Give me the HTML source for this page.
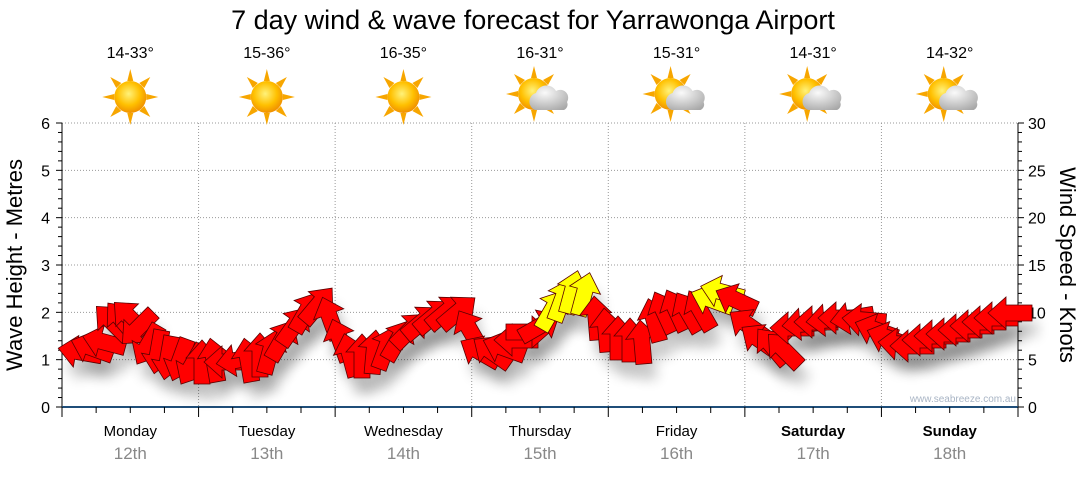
<!DOCTYPE html>
<html><head><meta charset="utf-8">
<style>
body{margin:0;background:#fff;width:1080px;height:475px;overflow:hidden;font-family:"Liberation Sans","DejaVu Sans",sans-serif}
</style></head><body>
<svg id="s" width="1080" height="475" xmlns="http://www.w3.org/2000/svg" font-family="Liberation Sans, DejaVu Sans, sans-serif">
<defs>
<radialGradient id="sun" cx="0.45" cy="0.4" r="0.6"><stop offset="0" stop-color="#fff27a"/><stop offset="0.6" stop-color="#ffc000"/><stop offset="1" stop-color="#f09000"/></radialGradient>
<radialGradient id="cl" cx="0.4" cy="0.3" r="0.8"><stop offset="0" stop-color="#fafafa"/><stop offset="1" stop-color="#a8a8a8"/></radialGradient>
<filter id="sh" x="-50%" y="-50%" width="200%" height="200%"><feGaussianBlur stdDeviation="6"/></filter>
<g id="sunI"><g fill="#f7a600">
<polygon points="0,-28 3,-16 -3,-16"/><polygon points="0,28 3,16 -3,16"/><polygon points="-28,0 -16,3 -16,-3"/><polygon points="28,0 16,3 16,-3"/>
<polygon points="-20,-20 -9,-14 -14,-9"/><polygon points="20,20 9,14 14,9"/><polygon points="20,-20 9,-14 14,-9"/><polygon points="-20,20 -9,14 -14,9"/></g>
<circle r="16" fill="url(#sun)"/></g>
<g id="cloud"><path d="M-9,11 a9,9 0 0 1 1,-17 a11,11 0 0 1 20,-2 a8,8 0 0 1 11,11 a6,6 0 0 1 -3,8 z" fill="url(#cl)"/></g>
</defs>
<text x="533" y="29" font-size="27" text-anchor="middle" fill="#000">7 day wind &amp; wave forecast for Yarrawonga Airport</text>
<g id="grid" stroke="#999" stroke-dasharray="1,2" stroke-width="1"></g>
<g id="axes"></g>
<g id="wx"></g>
<g id="arr"></g>
<text x="1016" y="402" font-size="10" fill="#a9b5c5" text-anchor="end">www.seabreeze.com.au</text>
<text transform="translate(22,265) rotate(-90)" font-size="22" text-anchor="middle">Wave Height - Metres</text>
<text transform="translate(1060,265) rotate(90)" font-size="22" text-anchor="middle">Wind Speed - Knots</text>
</svg>
<script>
const NS="http://www.w3.org/2000/svg",S=document.getElementById('s');
function el(p,t,a,txt){const e=document.createElementNS(NS,t);for(const k in a)e.setAttribute(k,a[k]);if(txt!=null)e.textContent=txt;document.getElementById(p).appendChild(e);return e;}
const X0=62,X1=1018,Y0=407,Y6=123,dw=(X1-X0)/7;
for(let i=1;i<=6;i++){const y=Y0-i*(Y0-Y6)/6;el('grid','line',{x1:X0,x2:X1,y1:y,y2:y});}
for(let i=1;i<7;i++){const x=X0+i*dw;el('grid','line',{x1:x,x2:x,y1:Y6,y2:Y0});}
el('axes','line',{x1:X0,x2:X0,y1:Y6,y2:Y0,stroke:'#000'});
el('axes','line',{x1:X1,x2:X1,y1:Y6,y2:Y0,stroke:'#000'});
el('axes','line',{x1:X0,x2:X1,y1:Y0,y2:Y0,stroke:'#1f4e79','stroke-width':2});
for(let i=0;i<=30;i++){const y=Y0-i*(Y0-Y6)/30;const L=i%5==0?6:4;
 el('axes','line',{x1:X0-L,x2:X0,y1:y,y2:y,stroke:'#000'});el('axes','line',{x1:X1,x2:X1+L,y1:y,y2:y,stroke:'#000'});
 if(i%5==0){el('axes','text',{x:X0-12,y:y+6,'font-size':16,'text-anchor':'end'},String(i/5));el('axes','text',{x:X1+10,y:y+6,'font-size':16},String(i));}}
for(let i=0;i<=28;i++){const x=X0+i*dw/4;el('axes','line',{x1:x,x2:x,y1:Y0,y2:Y0+(i%4==0?10:6),stroke:'#000'});}
const days=["Monday","Tuesday","Wednesday","Thursday","Friday","Saturday","Sunday"],dt=["12th","13th","14th","15th","16th","17th","18th"],tp=["14-33°","15-36°","16-35°","16-31°","15-31°","14-31°","14-32°"];
for(let i=0;i<7;i++){const cx=X0+(i+0.5)*dw;
 el('axes','text',{x:cx,y:436,'font-size':15,'text-anchor':'middle','font-weight':i>=5?'bold':'normal'},days[i]);
 el('axes','text',{x:cx,y:459,'font-size':17,'text-anchor':'middle',fill:'#888'},dt[i]);
 el('wx','text',{x:cx,y:58,'font-size':16,'text-anchor':'middle'},tp[i]);
 el('wx','use',{href:'#sunI',x:cx-(i>=3?6:0),y:i>=3?94:97});
 if(i>=3)el('wx','use',{href:'#cloud',x:cx+4,y:99});}
const P=[[80,352,190],[92,348,200],[104,342,195],[112,322,225],[122,320,230],[130,318,225],[138,328,135],[148,345,120],[158,352,100],[168,358,100],[180,360,110],[192,365,120],[202,362,270],[214,360,260],[226,362,180],[238,360,170],[248,360,260],[260,355,270],[270,352,285],[282,340,300],[294,326,305],[306,312,300],[318,305,310],[330,318,250],[340,340,250],[350,355,255],[362,356,270],[374,352,275],[386,348,290],[398,340,300],[410,330,315],[422,322,320],[434,316,320],[446,312,320],[458,312,320],[470,330,240],[480,352,210],[492,352,215],[504,348,200],[516,340,180],[528,332,0],[540,326,330],[552,310,300],[562,300,290],[572,292,285],[584,294,285],[596,318,265],[606,330,265],[618,338,270],[630,340,270],[642,342,265],[654,320,255],[664,312,245],[676,310,245],[688,312,240],[700,310,240],[712,300,200,1],[722,292,195,1],[736,300,205],[748,325,215],[760,340,215],[772,346,230],[784,350,225],[792,328,180],[804,324,175],[816,322,180],[828,320,175],[840,318,180],[852,318,170],[864,320,185],[876,330,200],[888,338,200],[900,344,185],[912,346,180],[924,340,180],[936,336,180],[948,334,180],[960,330,180],[972,326,180],[984,322,180],[996,318,180],[1010,313,180]];
const arr=document.getElementById('arr');
function poly(x,y,a,fill,sh){const L=44,hw=16,sw=8,hl=18;
 const pts=[[-L/2,-sw],[L/2-hl,-sw],[L/2-hl,-hw],[L/2,0],[L/2-hl,hw],[L/2-hl,sw],[-L/2,sw]];
 const r=a*Math.PI/180,c=Math.cos(r),s=Math.sin(r);
 const str=pts.map(p=>(x+p[0]*c-p[1]*s).toFixed(1)+','+(y+p[0]*s+p[1]*c).toFixed(1)).join(' ');
 const e=document.createElementNS(NS,'polygon');e.setAttribute('points',str);
 if(sh){e.setAttribute('fill','#000');e.setAttribute('opacity','0.18');e.setAttribute('filter','url(#sh)');}
 else{e.setAttribute('fill',fill);e.setAttribute('stroke','#5a0000');e.setAttribute('stroke-width','0.8');}
 arr.appendChild(e);}
P.forEach(p=>poly(p[0]+6,p[1]+16,p[2],null,true));
P.forEach((p,i)=>{const yel=(p[0]>=548&&p[0]<=590)||p[3];poly(p[0],p[1],p[2],yel?'#ffff00':'#ff0000',false);});
</script>
</body></html>
